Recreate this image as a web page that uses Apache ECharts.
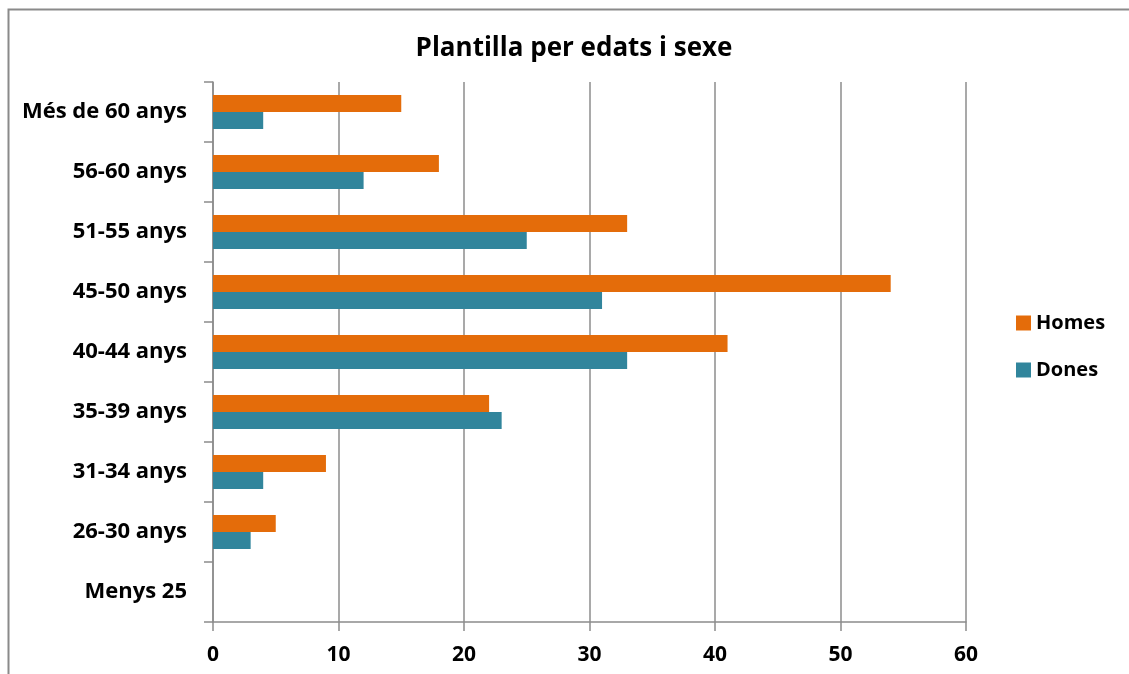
<!DOCTYPE html>
<html>
<head>
<meta charset="utf-8">
<style>
  html, body { margin: 0; padding: 0; background: #fff; }
  #chart { width: 1129px; height: 674px; }
</style>
<script src="https://cdn.jsdelivr.net/npm/echarts@6/dist/echarts.min.js"></script>
</head>
<body>
<div id="chart"></div>
<script>
// Age bands, top to bottom
const categories = ['Més de 60 anys', '56-60 anys', '51-55 anys', '45-50 anys', '40-44 anys',
  '35-39 anys', '31-34 anys', '26-30 anys', 'Menys 25'];
// Staff counts per band
const homes = [15, 18, 33, 54, 41, 22, 9, 5, 0];
const dones = [4, 12, 25, 31, 33, 23, 4, 3, 0];
const seriesNames = ['Homes', 'Dones'];

const FONT = '"Open Sans", "DejaVu Sans", sans-serif';
const gridColor = '#8c8c8c';

const chart = echarts.init(document.getElementById('chart'), null, { renderer: 'canvas' });
chart.setOption({
  animation: false,
  backgroundColor: '#ffffff',
  title: {
    text: 'Plantilla per edats i sexe',
    left: 574, top: 36, textAlign: 'center', padding: 0,
    textStyle: { fontFamily: FONT, fontSize: 26, fontWeight: 'bold', color: '#000' }
  },
  graphic: [{
    type: 'rect', silent: true,
    shape: { x: 8.5, y: 9.5, width: 1300, height: 800 },
    style: { fill: 'none', stroke: '#8a8a8a', lineWidth: 2 }
  }],
  legend: {
    data: seriesNames,
    orient: 'vertical',
    left: 1016, top: 313, padding: 0,
    itemWidth: 15, itemHeight: 15, itemGap: 27,
    icon: 'rect',
    textStyle: { fontFamily: FONT, fontSize: 20, fontWeight: 'bold', color: '#000' }
  },
  grid: { left: 213, right: 163, top: 82, bottom: 52, containLabel: false },
  xAxis: {
    type: 'value', min: 0, max: 60, interval: 10,
    axisLine: { show: true, lineStyle: { color: gridColor, width: 1.5 } },
    axisTick: { show: true, length: 9, lineStyle: { color: gridColor, width: 1.5 } },
    axisLabel: { fontFamily: FONT, fontSize: 21, fontWeight: 'bold', color: '#000', margin: 23 },
    splitLine: { show: true, lineStyle: { color: gridColor, width: 1.5 } }
  },
  yAxis: {
    type: 'category', data: categories, inverse: true,
    axisLine: { show: true, lineStyle: { color: gridColor, width: 1.5 } },
    axisTick: { show: true, length: 9, lineStyle: { color: gridColor, width: 1.5 } },
    axisLabel: { fontFamily: FONT, fontSize: 22, fontWeight: 'bold', color: '#000', margin: 26 },
    splitLine: { show: false }
  },
  series: [
    {
      name: seriesNames[0], type: 'bar', data: homes,
      barWidth: 17, barGap: '0%',
      itemStyle: { color: '#e46c0a' }
    },
    {
      name: seriesNames[1], type: 'bar', data: dones,
      barWidth: 17, barGap: '0%',
      itemStyle: { color: '#31859c' }
    }
  ]
});
</script>
</body>
</html>
